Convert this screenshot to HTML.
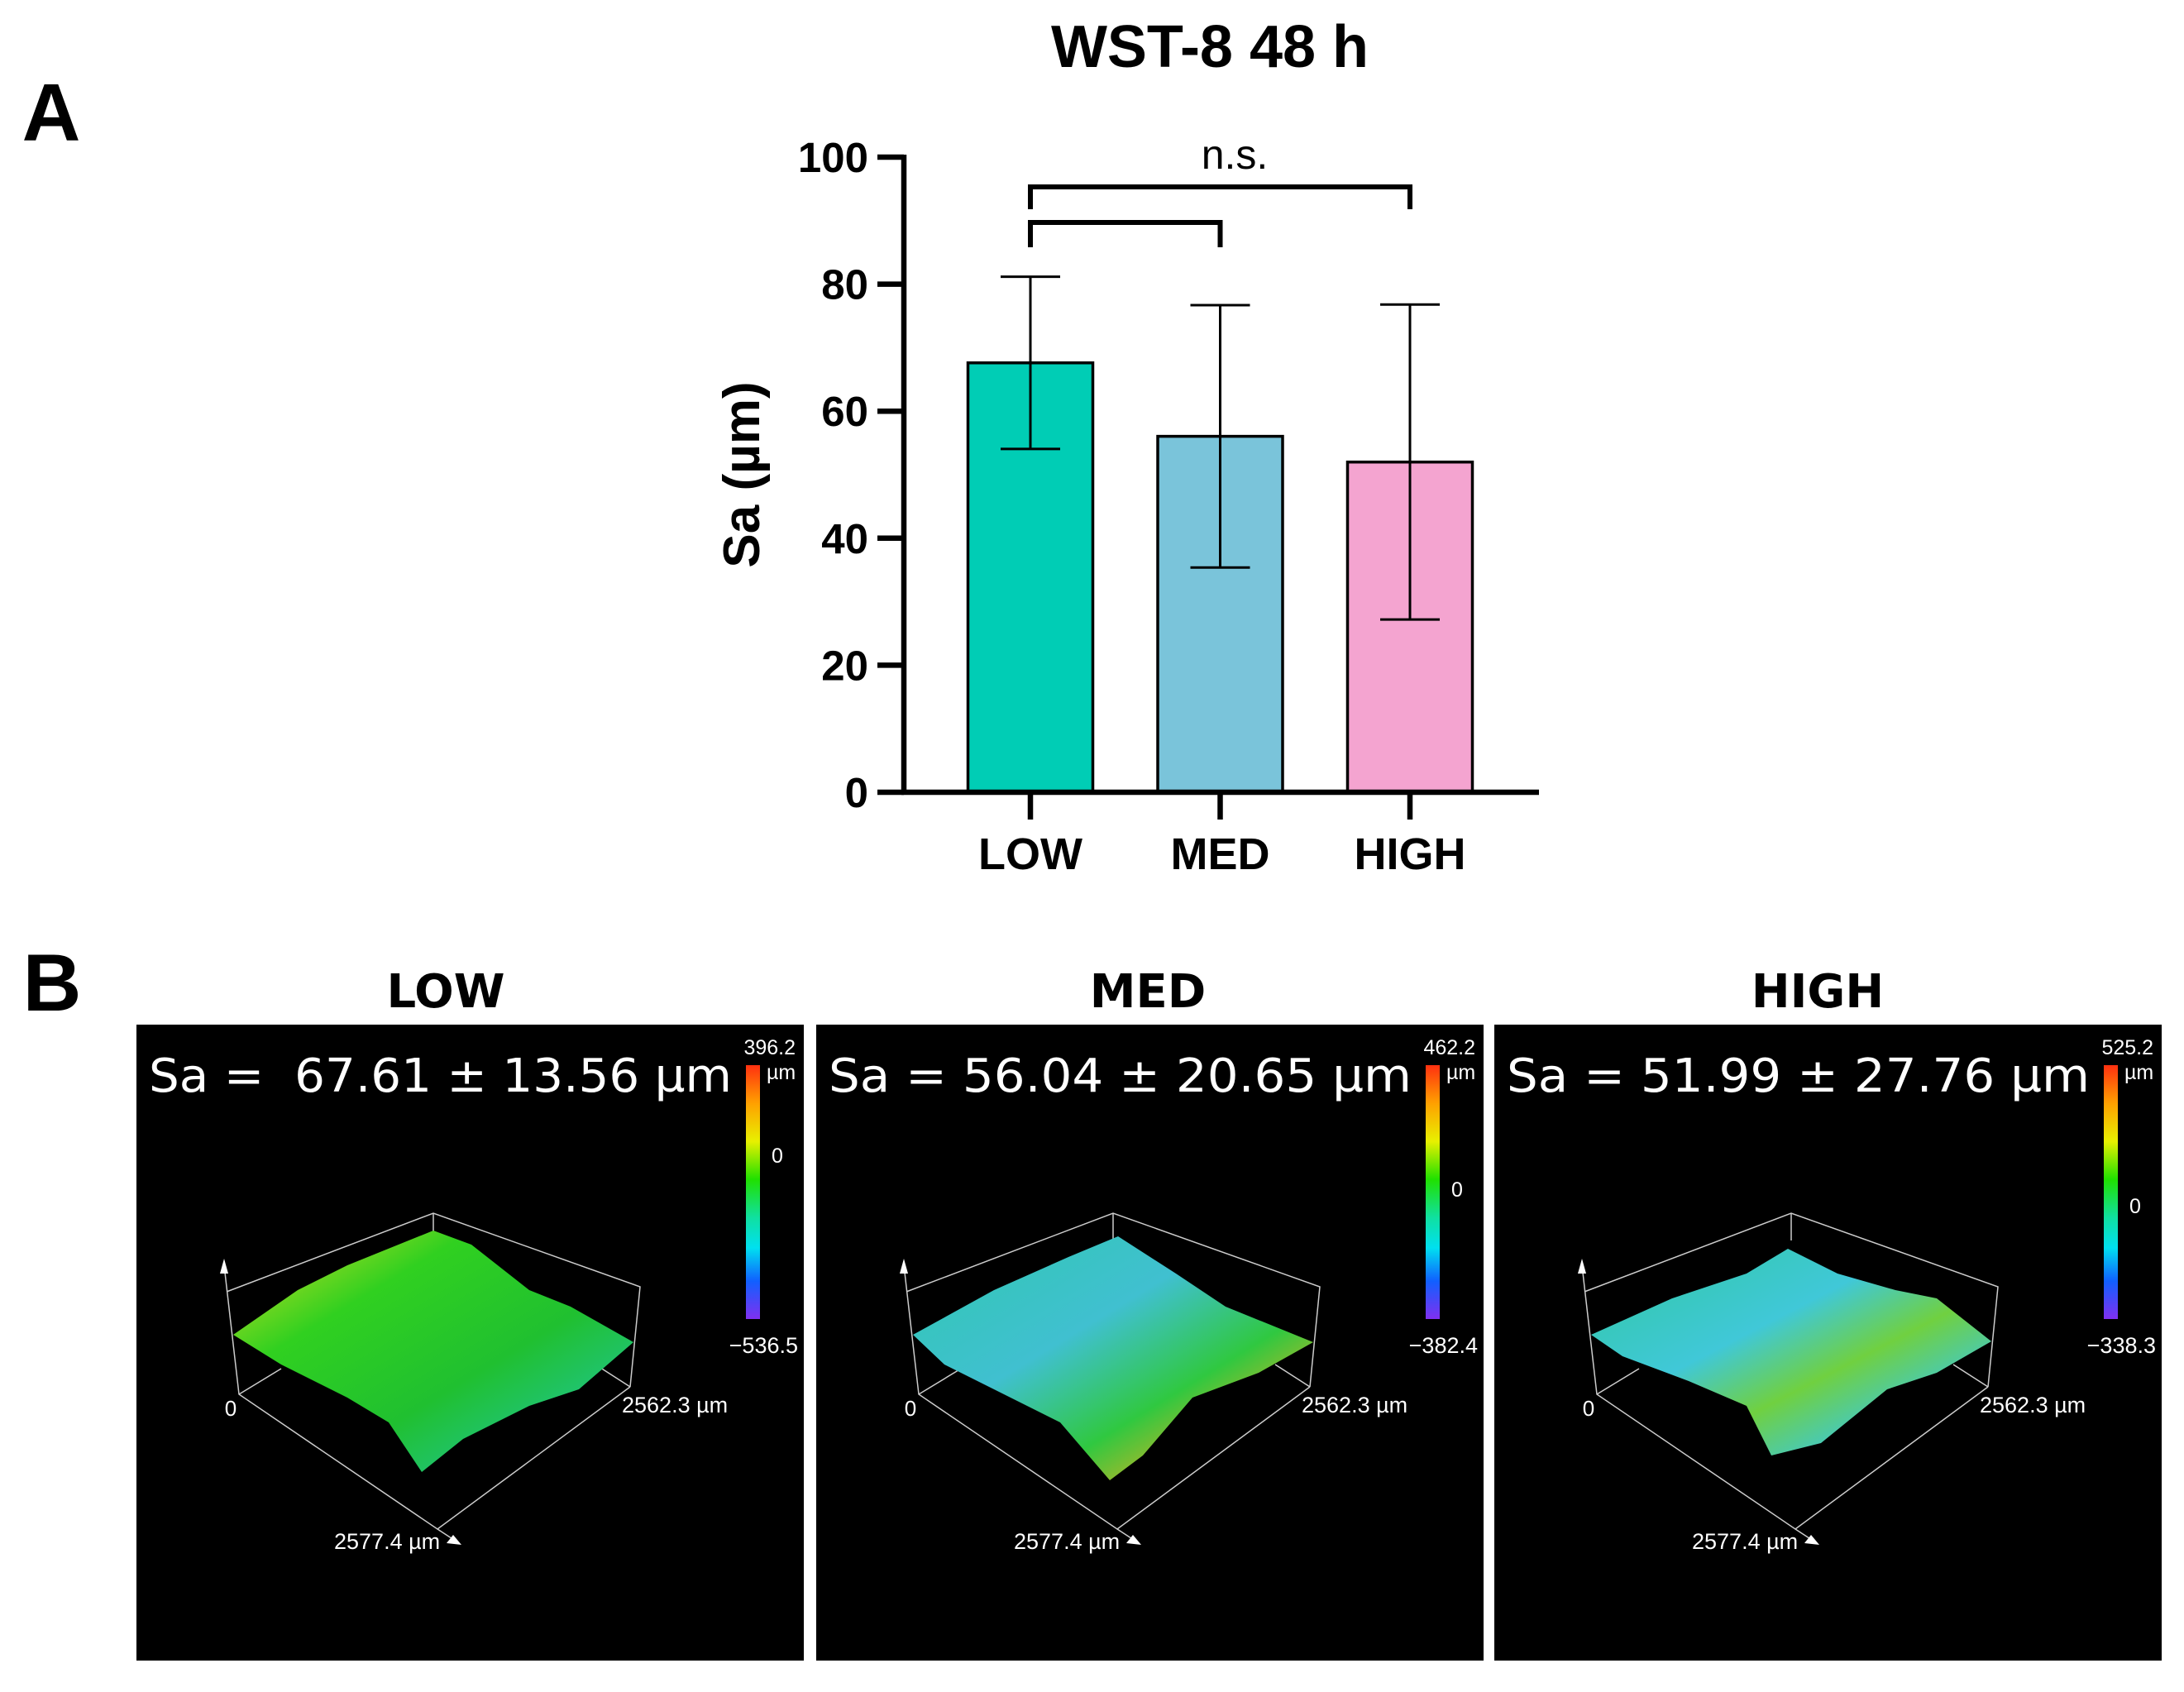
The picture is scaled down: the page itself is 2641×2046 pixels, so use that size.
<!DOCTYPE html>
<html><head><meta charset="utf-8"><style>
html,body{margin:0;padding:0;background:#fff;}
svg{display:block;}
text{white-space:pre;}
</style></head><body>
<svg id="fig" width="2641" height="2046" viewBox="0 0 2641 2046" xmlns="http://www.w3.org/2000/svg">
<defs>
<linearGradient id="cbar" x1="0" y1="0" x2="0" y2="1">
<stop offset="0" stop-color="#ff3010"/><stop offset="0.15" stop-color="#ffa000"/><stop offset="0.3" stop-color="#e8f000"/><stop offset="0.45" stop-color="#20e000"/><stop offset="0.6" stop-color="#10e0a0"/><stop offset="0.72" stop-color="#00e0f0"/><stop offset="0.85" stop-color="#1060ff"/><stop offset="1" stop-color="#8030f0"/>
</linearGradient>
<linearGradient id="surf0" x1="0" y1="0" x2="1" y2="1"><stop offset="0" stop-color="#e0e020"/><stop offset="0.3" stop-color="#30d020"/><stop offset="0.6" stop-color="#20c030"/><stop offset="1" stop-color="#20c8c0"/></linearGradient>
<linearGradient id="surf1" x1="0" y1="0" x2="1" y2="1"><stop offset="0" stop-color="#30c8b0"/><stop offset="0.4" stop-color="#40c0d0"/><stop offset="0.65" stop-color="#30c840"/><stop offset="0.85" stop-color="#e0b020"/><stop offset="1" stop-color="#30b030"/></linearGradient>
<linearGradient id="surf2" x1="0" y1="0" x2="1" y2="1"><stop offset="0" stop-color="#30c8a0"/><stop offset="0.4" stop-color="#40c8d8"/><stop offset="0.6" stop-color="#70d040"/><stop offset="0.8" stop-color="#40c8d0"/><stop offset="1" stop-color="#30c0c0"/></linearGradient>
</defs>
<g id="chartA"></g>
<g id="panelB"></g>
</svg>
<script>
const categories = ["LOW", "MED", "HIGH"];
const means = [67.61, 56.04, 51.99];
const sds = [13.56, 20.65, 24.8];
const yTicks = [0, 20, 40, 60, 80, 100];
const barColors = ["#00cdb5", "#7ac4da", "#f4a4d0"];
const panelTitles = ["LOW", "MED", "HIGH"];
const cbarMax = ["396.2", "462.2", "525.2"];
const cbarMin = ["\u2212536.5", "\u2212382.4", "\u2212338.3"];

const NS = "http://www.w3.org/2000/svg";
function mk(parent, tag, attrs, text) {
  const e = document.createElementNS(NS, tag);
  for (const k in attrs) e.setAttribute(k, attrs[k]);
  if (text !== undefined) e.textContent = text;
  parent.appendChild(e);
  return e;
}
const A = document.getElementById("chartA");
const x0 = 1093, xEnd = 1861, y0 = 958, y100 = 190;
const yScale = v => y0 - (v / 100) * (y0 - y100);
const xCenter = i => 1246 + i * 229.5;
const barW = 151;
const F = '"Liberation Sans", Arial, sans-serif';

let t;
t = mk(A, "text", {x: 62, y: 170, "font-family": F, "font-weight": "bold", "font-size": 98, "text-anchor": "middle"}, "A");


t = mk(A, "text", {x: 1463, y: 81, "font-family": F, "font-weight": "bold", "font-size": 72, "text-anchor": "middle"}, "WST-8 48 h");


t = mk(A, "text", {x: 0, y: 0, "font-family": F, "font-weight": "bold", "font-size": 62, "text-anchor": "middle", transform: "translate(918,574) rotate(-90)"}, "Sa (\u00b5m)");



categories.forEach((c, i) => {
  const cx = xCenter(i), top = yScale(means[i]);
  const r = mk(A, "rect", {x: cx - barW / 2, y: top, width: barW, height: y0 - top, fill: barColors[i], stroke: "#000", "stroke-width": 3.5});
  
  
  const hi = yScale(means[i] + sds[i]), lo = yScale(means[i] - sds[i]);
  const g = mk(A, "g", {stroke: "#000", "stroke-width": 3});
  
  
  mk(g, "line", {x1: cx, y1: hi, x2: cx, y2: lo});
  mk(g, "line", {x1: cx - 36, y1: hi, x2: cx + 36, y2: hi});
  mk(g, "line", {x1: cx - 36, y1: lo, x2: cx + 36, y2: lo});
  const tk = mk(A, "line", {x1: cx, y1: y0, x2: cx, y2: 991, stroke: "#000", "stroke-width": 6.5});
  
  
  const lb = mk(A, "text", {x: cx, y: 1051, "font-family": F, "font-weight": "bold", "font-size": 54, "text-anchor": "middle"}, c);
  
  
});

yTicks.forEach(v => {
  const y = yScale(v);
  const l = mk(A, "line", {x1: 1061, y1: y, x2: x0, y2: y, stroke: "#000", "stroke-width": 6.5});
  
  
  const tl = mk(A, "text", {x: 1050, y: y + 18, "font-family": F, "font-weight": "bold", "font-size": 51, "text-anchor": "end"}, String(v));
  
  
});
let ax = mk(A, "line", {x1: x0, y1: y100 - 3, x2: x0, y2: y0 + 3, stroke: "#000", "stroke-width": 6.5});


ax = mk(A, "line", {x1: x0 - 3, y1: y0, x2: xEnd, y2: y0, stroke: "#000", "stroke-width": 6.5});



let br = mk(A, "path", {d: `M${xCenter(0)},253 V226 H${xCenter(2)} V253`, fill: "none", stroke: "#000", "stroke-width": 6});


br = mk(A, "path", {d: `M${xCenter(0)},299 V269 H${xCenter(1)} V299`, fill: "none", stroke: "#000", "stroke-width": 6});


t = mk(A, "text", {x: 1493, y: 204, "font-family": F, "font-size": 50, "text-anchor": "middle"}, "n.s.");



const B = document.getElementById("panelB");
const D = '"DejaVu Sans", "Liberation Sans", sans-serif';
t = mk(B, "text", {x: 63, y: 1222, "font-family": F, "font-weight": "bold", "font-size": 98, "text-anchor": "middle"}, "B");


const panelX = [165, 987, 1807];
const panelCenter = [539, 1388, 2198];
const saText = ["Sa =  67.61 \u00b1 13.56 \u00b5m", "Sa = 56.04 \u00b1 20.65 \u00b5m", "Sa = 51.99 \u00b1 27.76 \u00b5m"];
const zeroY = [1406, 1447, 1467];
const surfPts = [
  "282,1614 360,1560 420,1530 524,1488 570,1505 640,1560 690,1580 766,1623 700,1680 640,1700 560,1740 510,1780 470,1720 420,1690 340,1650",
  "282,1614 380,1560 470,1520 530,1495 600,1540 660,1580 766,1623 700,1660 620,1690 560,1760 520,1790 460,1720 380,1680 320,1650",
  "282,1614 380,1570 470,1540 520,1510 580,1540 650,1560 700,1570 766,1622 700,1660 640,1680 560,1745 500,1760 470,1700 400,1670 320,1640"
];
for (let i = 0; i < 3; i++) {
  const px = panelX[i], dx = px - 165;
  const g = mk(B, "g", {});
  
  
  t = mk(g, "text", {x: panelCenter[i], y: 1218, "font-family": D, "font-weight": "bold", "font-size": 56, "text-anchor": "middle"}, panelTitles[i]);
  
  
  const r = mk(g, "rect", {x: px, y: 1239, width: 807, height: 769, fill: "#000"});
  
  
  t = mk(g, "text", {x: px + 15, y: 1320, "font-family": D, "font-size": 56, fill: "#fff", textLength: 705, lengthAdjust: "spacingAndGlyphs"}, saText[i]);
  
  
  const cb = mk(g, "rect", {x: px + 737, y: 1288, width: 17, height: 307, fill: "url(#cbar)"});
  
  
  mk(g, "text", {x: px + 797, y: 1275, "font-family": F, "font-size": 25, fill: "#fff", "text-anchor": "end"}, cbarMax[i]);
  mk(g, "text", {x: px + 762, y: 1305, "font-family": F, "font-size": 25, fill: "#fff"}, "\u00b5m");
  mk(g, "text", {x: px + 768, y: zeroY[i], "font-family": F, "font-size": 25, fill: "#fff"}, "0");
  mk(g, "text", {x: px + 800, y: 1636, "font-family": F, "font-size": 27, fill: "#fff", "text-anchor": "end"}, cbarMin[i]);
  const bx = mk(g, "g", {stroke: "#ccc", "stroke-width": 1.5, fill: "none", transform: `translate(${dx},0)`});
  
  
  mk(bx, "polyline", {points: "274,1562 524,1467 774,1556 762,1677"});
  mk(bx, "line", {x1: 524, y1: 1467, x2: 524, y2: 1500});
  mk(bx, "polyline", {points: "271,1530 289,1686 529,1849 762,1677"});
  mk(bx, "line", {x1: 289, y1: 1686, x2: 340, y2: 1655});
  mk(bx, "line", {x1: 762, y1: 1677, x2: 720, y2: 1650});
  mk(bx, "line", {x1: 529, y1: 1849, x2: 555, y2: 1866});
  const s = mk(g, "polygon", {points: surfPts[i], fill: `url(#surf${i})`, transform: `translate(${dx},0)`});
  
  
  mk(g, "polygon", {points: `${271+dx},1522 ${266+dx},1540 ${276+dx},1540`, fill: "#fff"});
  mk(g, "polygon", {points: `${558+dx},1868 ${540+dx},1866 ${548+dx},1856`, fill: "#fff"});
  mk(g, "text", {x: 279 + dx, y: 1712, "font-family": F, "font-size": 26, fill: "#fff", "text-anchor": "middle"}, "0");
  mk(g, "text", {x: 752 + dx, y: 1708, "font-family": F, "font-size": 27, fill: "#fff"}, "2562.3 \u00b5m");
  mk(g, "text", {x: 404 + dx, y: 1873, "font-family": F, "font-size": 27, fill: "#fff"}, "2577.4 \u00b5m");
}
</script>
</body></html>
